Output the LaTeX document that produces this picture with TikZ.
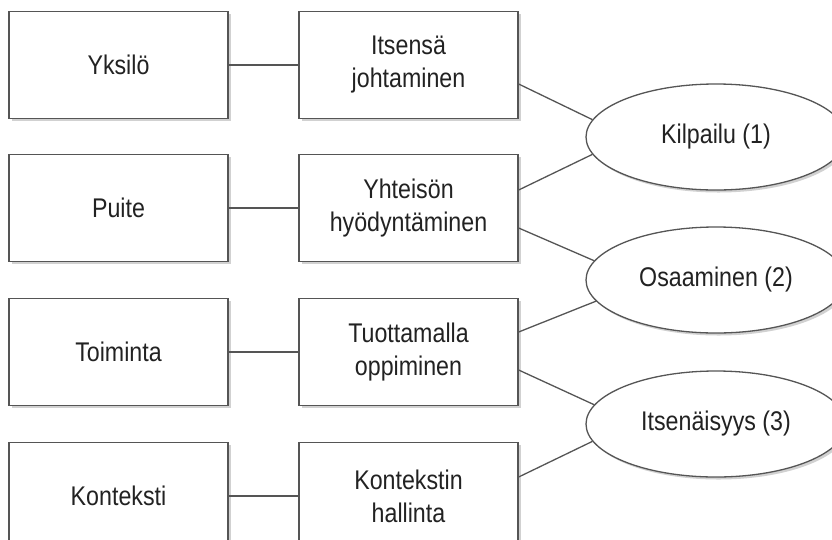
\documentclass[tikz,border=0pt]{standalone}
\usepackage{fontspec}
\setmainfont{Liberation Sans}[FakeStretch=0.86]
\usetikzlibrary{shapes.geometric,shadows}
\definecolor{edge}{HTML}{555555}
\definecolor{ink}{HTML}{222222}
\tikzset{
  boxnode/.style={draw=edge, line width=1.3pt, fill=white, rectangle,
    minimum width=219pt, minimum height=107pt, inner sep=0pt,
    align=center, text=ink, font=\fontsize{27}{33}\selectfont,
    drop shadow={shadow xshift=2.5pt, shadow yshift=-2.5pt, fill=black!18, opacity=1}},
  ellnode/.style={draw=edge, line width=1.3pt, fill=white, ellipse,
    minimum width=260pt, minimum height=106pt, inner sep=0pt,
    align=center, text=ink, font=\fontsize{27}{33}\selectfont,
    drop shadow={shadow xshift=2.5pt, shadow yshift=-2.5pt, fill=black!18, opacity=1}},
  link/.style={draw=edge, line width=1.3pt}
}
\begin{document}
\begin{tikzpicture}[x=1pt,y=-1pt]
\useasboundingbox (0,0) rectangle (832,539);
\clip (0,0) rectangle (832,539);
\fill[white] (0,0) rectangle (832,539);
% left column
\node[boxnode] (A1) at (118.5,65) {Yksilö};
\node[boxnode] (A2) at (118.5,208) {Puite};
\node[boxnode] (A3) at (118.5,352) {Toiminta};
\node[boxnode] (A4) at (118.5,496) {Konteksti};
% middle column
\node[boxnode] (B1) at (408.5,65) {Itsensä\\johtaminen};
\node[boxnode] (B2) at (408.5,208) {Yhteisön\\hyödyntäminen};
\node[boxnode] (B3) at (408.5,352) {Tuottamalla\\oppiminen};
\node[boxnode] (B4) at (408.5,496) {Kontekstin\\hallinta};
% ellipses
\node[ellnode] (K) at (716,137) {Kilpailu (1)};
\node[ellnode] (O) at (716,280) {Osaaminen (2)};
\node[ellnode] (I) at (716,424) {Itsenäisyys (3)};
% horizontal links
\draw[link] (A1.east) -- (B1.west);
\draw[link] (A2.east) -- (B2.west);
\draw[link] (A3.east) -- (B3.west);
\draw[link] (A4.east) -- (B4.west);
% diagonal links
\draw[link] ([yshift=-19pt]B1.east) -- (K.172);
\draw[link] ([yshift=18pt]B2.east) -- (K.188);
\draw[link] ([yshift=-20pt]B2.east) -- (O.171);
\draw[link] ([yshift=20pt]B3.east) -- (O.190);
\draw[link] ([yshift=-18pt]B3.east) -- (I.171);
\draw[link] ([yshift=19pt]B4.east) -- (I.188);
\end{tikzpicture}
\end{document}
